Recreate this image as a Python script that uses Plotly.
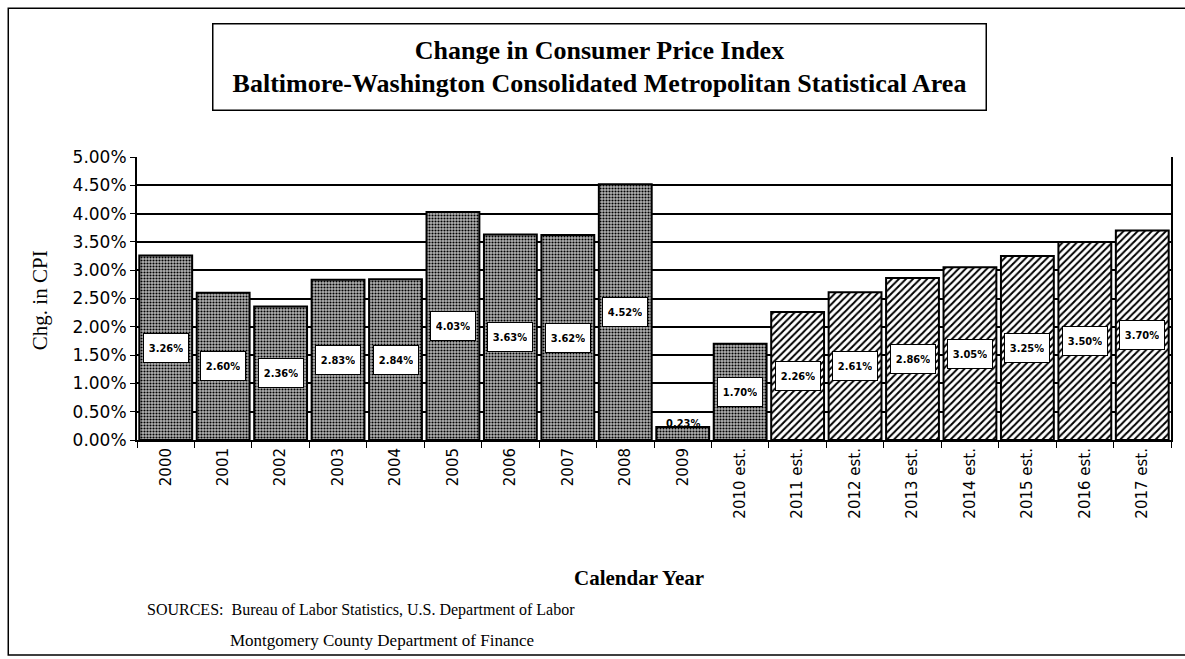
import plotly.graph_objects as go

years = ["2000", "2001", "2002", "2003", "2004", "2005", "2006", "2007", "2008", "2009",
         "2010 est.", "2011 est.", "2012 est.", "2013 est.", "2014 est.", "2015 est.", "2016 est.", "2017 est."]
values = [3.26, 2.60, 2.36, 2.83, 2.84, 4.03, 3.63, 3.62, 4.52, 0.23,
          1.70, 2.26, 2.61, 2.86, 3.05, 3.25, 3.50, 3.70]
labels = ["3.26%", "2.60%", "2.36%", "2.83%", "2.84%", "4.03%", "3.63%", "3.62%", "4.52%", "0.23%",
          "1.70%", "2.26%", "2.61%", "2.86%", "3.05%", "3.25%", "3.50%", "3.70%"]
ytick_vals = [0, 0.5, 1, 1.5, 2, 2.5, 3, 3.5, 4, 4.5, 5]
ytick_text = ["0.00%", "0.50%", "1.00%", "1.50%", "2.00%", "2.50%", "3.00%", "3.50%", "4.00%", "4.50%", "5.00%"]
n_actual = 11  # 2000-2010 stipple, rest hatched

n_est = len(years) - n_actual
shapes_pat = ["."] * n_actual + ["/"] * n_est
bg = ["#b4b4b4"] * n_actual + ["white"] * n_est
sizes = [3] * n_actual + [5] * n_est
solid = [0.4] * n_actual + [0.4] * n_est

fig = go.Figure()
fig.add_trace(go.Bar(
    x=years, y=values,
    marker=dict(color="white", line=dict(color="black", width=2),
                pattern=dict(shape=shapes_pat, fgcolor="black", bgcolor=bg,
                             size=sizes, solidity=solid, fillmode="replace")),
    width=0.92, hoverinfo="skip", showlegend=False))

lab_font = dict(family="DejaVu Sans Condensed, DejaVu Sans", size=11, color="black")
for i, (v, lab) in enumerate(zip(values, labels)):
    if v > 1:
        fig.add_annotation(x=i, y=v / 2, text="<b>" + lab + "</b>", showarrow=False, font=lab_font,
                           bgcolor="white", bordercolor="black", borderwidth=1, borderpad=5,
                           width=34, height=18)
    else:
        fig.add_annotation(x=i, y=0.3, text="<b>" + lab + "</b>", showarrow=False, font=lab_font)

serif = "Liberation Serif"
fig.add_annotation(xref="paper", yref="paper", x=0.4469, y=1.318, xanchor="center", yanchor="middle",
                   text="<b>Change in Consumer Price Index<br>Baltimore-Washington Consolidated Metropolitan Statistical Area</b>",
                   showarrow=False, font=dict(family=serif, size=26, color="black"),
                   bordercolor="black", borderwidth=1.5, borderpad=11, width=750, align="center")
fig.add_annotation(xref="paper", yref="paper", x=-0.0936, y=0.495, xanchor="center", yanchor="middle",
                   text="Chg. in CPI", textangle=-90, showarrow=False,
                   font=dict(family=serif, size=21, color="black"))
fig.add_annotation(xref="paper", yref="paper", x=0.4855, y=-0.4876, xanchor="center", yanchor="middle",
                   text="<b>Calendar Year</b>", showarrow=False,
                   font=dict(family=serif, size=21, color="black"))
fig.add_annotation(xref="paper", yref="paper", x=0.0077, y=-0.6, xanchor="left", yanchor="middle",
                   text="SOURCES:  Bureau of Labor Statistics, U.S. Department of Labor",
                   showarrow=False, font=dict(family=serif, size=16, color="black"))
fig.add_annotation(xref="paper", yref="paper", x=0.0878, y=-0.707, xanchor="left", yanchor="middle",
                   text="Montgomery County Department of Finance",
                   showarrow=False, font=dict(family=serif, size=17, color="black"))

fig.add_shape(type="rect", xref="paper", yref="paper", x0=-0.1245, x1=1.02, y0=-0.76, y1=1.526,
              line=dict(color="black", width=1.5))

fig.update_layout(
    width=1185, height=659, margin=dict(l=137, r=12, t=157, b=219),
    paper_bgcolor="white", plot_bgcolor="white", bargap=0.08,
    font=dict(family="DejaVu Sans", size=14, color="black"),
)
fig.update_xaxes(type="category", tickangle=-90, showline=True, linecolor="black", linewidth=2,
                 ticks="outside", tickson="boundaries", ticklen=6, tickcolor="black",
                 tickfont=dict(family="DejaVu Sans", size=15), mirror=False)
fig.update_yaxes(range=[0, 5], tickvals=ytick_vals, ticktext=ytick_text, showgrid=True,
                 gridcolor="black", gridwidth=1.5, showline=True, linecolor="black", linewidth=2,
                 mirror=True, ticks="outside", ticklen=5, tickcolor="black", zeroline=False,
                 tickfont=dict(family="DejaVu Sans", size=17))

fig.write_html("out.html", post_script="document.body.style.margin='0px';",
               config={"displayModeBar": False})
